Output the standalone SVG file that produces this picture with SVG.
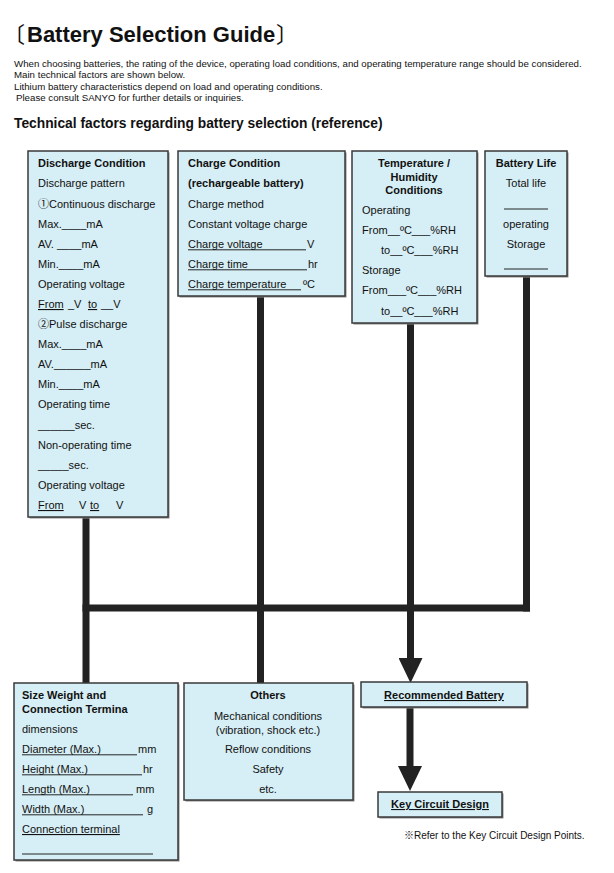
<svg xmlns="http://www.w3.org/2000/svg" width="614" height="873" viewBox="0 0 614 873">
<style>
text{font-family:"Liberation Sans",Arial,"Noto Sans CJK JP",sans-serif;fill:#111;font-size:11px}
.b{font-weight:bold}
.c{text-anchor:middle}
.u{text-decoration:underline}
.box{fill:#d6eef5;stroke:#3a3a3a;stroke-width:1.5}
.sh{fill:#8a8a8a}
.ul{stroke:#111;stroke-width:0.9}
.con{stroke:#222;stroke-width:7;fill:none}
.p{font-size:9.7px}
</style>
<defs>
<marker id="ah" viewBox="0 -12 25 24" refX="0" refY="0" markerWidth="25" markerHeight="24" markerUnits="userSpaceOnUse" orient="auto">
<path d="M0,-12 L25,0 L0,12 z" fill="#222"/>
</marker>
</defs>
<rect width="614" height="873" fill="#fff"/>
<g id="header">
<text x="3" y="42" style="font-size:22px;font-family:'Noto Sans CJK JP',sans-serif">〔</text>
<text x="27" y="42" class="b" style="font-size:22px">Battery Selection Guide</text>
<text x="276" y="42" style="font-size:22px;font-family:'Noto Sans CJK JP',sans-serif">〕</text>
<text x="14" y="66.5" class="p">When choosing batteries, the rating of the device, operating load conditions, and operating temperature range should be considered.</text>
<text x="14" y="77.5" class="p">Main technical factors are shown below.</text>
<text x="14" y="89.5" class="p">Lithium battery characteristics depend on load and operating conditions.</text>
<text x="16" y="100.5" class="p">Please consult SANYO for further details or inquiries.</text>
<text x="14" y="128" class="b" style="font-size:13.8px">Technical factors regarding battery selection (reference)</text>
</g>
<g id="connectors">
<line class="con" x1="86" y1="517" x2="86" y2="684"/>
<line class="con" x1="82.5" y1="608" x2="530" y2="608"/>
<line class="con" x1="260.5" y1="296" x2="260.5" y2="684"/>
<line class="con" x1="526.5" y1="276" x2="526.5" y2="611.5"/>
<line class="con" x1="410.5" y1="323" x2="410.5" y2="658" marker-end="url(#ah)"/>
<line class="con" x1="410" y1="707" x2="410" y2="766" marker-end="url(#ah)"/>
</g>
<g id="discharge">
<rect class="sh" x="29.5" y="152.5" width="140" height="366"/>
<rect class="box" x="28" y="151" width="140" height="366"/>
<text x="38" y="167" class="b">Discharge Condition</text>
<text x="38" y="187">Discharge pattern</text>
<text x="38" y="208">①Continuous discharge</text>
<text x="38" y="228">Max.____mA</text>
<text x="38" y="248">AV. ____mA</text>
<text x="38" y="268">Min.____mA</text>
<text x="38" y="288">Operating voltage</text>
<text y="308"><tspan x="38" class="u">From</tspan><tspan x="68">_V</tspan><tspan x="88" class="u">to</tspan><tspan x="101">__V</tspan></text>
<text x="38" y="328">②Pulse discharge</text>
<text x="38" y="348">Max.____mA</text>
<text x="38" y="368">AV.______mA</text>
<text x="38" y="388">Min.____mA</text>
<text x="38" y="408">Operating time</text>
<text x="38" y="429">______sec.</text>
<text x="38" y="449">Non-operating time</text>
<text x="38" y="469">_____sec.</text>
<text x="38" y="489">Operating voltage</text>
<text y="509"><tspan x="38" class="u">From</tspan><tspan x="79">V</tspan><tspan x="90" class="u">to</tspan><tspan x="116">V</tspan></text>
</g>
<g id="charge">
<rect class="sh" x="179.5" y="152.5" width="167" height="145"/>
<rect class="box" x="178" y="151" width="167" height="145"/>
<text x="188" y="167" class="b">Charge Condition</text>
<text x="188" y="187" class="b">(rechargeable battery)</text>
<text x="188" y="208">Charge method</text>
<text x="188" y="228">Constant voltage charge</text>
<text x="188" y="248">Charge voltage</text><line class="ul" x1="188" y1="249.8" x2="306" y2="249.8"/><text x="307" y="248">V</text>
<text x="188" y="268">Charge time</text><line class="ul" x1="188" y1="269.8" x2="307" y2="269.8"/><text x="308" y="268">hr</text>
<text x="188" y="288">Charge temperature</text><line class="ul" x1="188" y1="289.8" x2="301" y2="289.8"/><text x="303" y="288">ºC</text>
</g>
<g id="temperature">
<rect class="sh" x="353.5" y="152.5" width="125" height="172"/>
<rect class="box" x="352" y="151" width="125" height="172"/>
<text x="414" y="167" class="b c">Temperature /</text>
<text x="414" y="181" class="b c">Humidity</text>
<text x="414" y="194" class="b c">Conditions</text>
<text x="362" y="214">Operating</text>
<text x="362" y="234">From__ºC___%RH</text>
<text x="381" y="254">to__ºC___%RH</text>
<text x="362" y="274">Storage</text>
<text x="362" y="294">From___ºC___%RH</text>
<text x="381" y="315">to__ºC___%RH</text>
</g>
<g id="battery-life">
<rect class="sh" x="486.5" y="152.5" width="82" height="125"/>
<rect class="box" x="485" y="151" width="82" height="125"/>
<text x="526" y="167" class="b c">Battery Life</text>
<text x="526" y="187" class="c">Total life</text>
<line class="ul" x1="504" y1="209" x2="548" y2="209"/>
<text x="526" y="228" class="c">operating</text>
<text x="526" y="248" class="c">Storage</text>
<line class="ul" x1="504" y1="269" x2="548" y2="269"/>
</g>
<g id="size">
<rect class="sh" x="15.5" y="684.5" width="164" height="177"/>
<rect class="box" x="14" y="683" width="164" height="177"/>
<text x="22" y="699" class="b">Size Weight and</text>
<text x="22" y="713" class="b">Connection Termina</text>
<text x="22" y="733">dimensions</text>
<text x="22" y="753">Diameter (Max.)</text><line class="ul" x1="22" y1="754.8" x2="137" y2="754.8"/><text x="138" y="753">mm</text>
<text x="22" y="773">Height (Max.)</text><line class="ul" x1="22" y1="774.8" x2="142" y2="774.8"/><text x="143" y="773">hr</text>
<text x="22" y="793">Length (Max.)</text><line class="ul" x1="22" y1="794.8" x2="133" y2="794.8"/><text x="136" y="793">mm</text>
<text x="22" y="813">Width (Max.)</text><line class="ul" x1="22" y1="814.8" x2="143" y2="814.8"/><text x="147" y="813">g</text>
<text x="22" y="833" class="u">Connection terminal</text>
<line class="ul" x1="22" y1="854" x2="153" y2="854"/>
</g>
<g id="others">
<rect class="sh" x="185.5" y="684.5" width="169" height="117"/>
<rect class="box" x="184" y="683" width="169" height="117"/>
<text x="268" y="699" class="b c">Others</text>
<text x="268" y="720" class="c">Mechanical conditions</text>
<text x="268" y="734" class="c">(vibration, shock etc.)</text>
<text x="268" y="753" class="c">Reflow conditions</text>
<text x="268" y="773" class="c">Safety</text>
<text x="268" y="793" class="c">etc.</text>
</g>
<g id="recommended">
<rect class="sh" x="362.5" y="683.5" width="166" height="25"/>
<rect class="box" x="361" y="682" width="166" height="25"/>
<text x="444" y="699" class="b c u">Recommended Battery</text>
</g>
<g id="key-circuit">
<rect class="sh" x="379.5" y="793.5" width="124" height="25"/>
<rect class="box" x="378" y="792" width="124" height="25"/>
<text x="440" y="808" class="b c u">Key Circuit Design</text>
</g>
<text x="404" y="839" style="font-size:10px">※Refer to the Key Circuit Design Points.</text>
</svg>
